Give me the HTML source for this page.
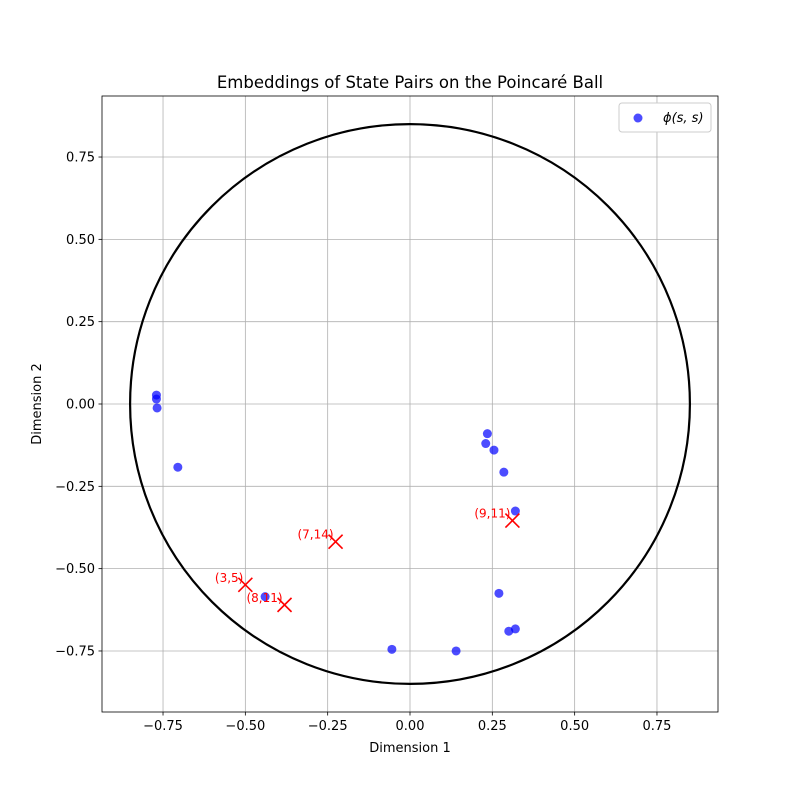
<!DOCTYPE html>
<html><head><meta charset="utf-8"><style>
body{margin:0;background:#fff}
svg{display:block;font-family:"DejaVu Sans","Liberation Sans",sans-serif}
</style></head><body>
<svg id="chart" width="800" height="800"></svg>
<script>
const blueX=[-0.77,-0.77,-0.768,-0.705,0.235,0.23,0.255,0.285,0.32,0.27,0.30,0.32,0.14,-0.055,-0.44];
const blueY=[0.027,0.015,-0.012,-0.192,-0.09,-0.12,-0.14,-0.207,-0.325,-0.575,-0.69,-0.683,-0.75,-0.745,-0.585];
const redLabels=["(7,14)","(3,5)","(8,11)","(9,11)"];
const redX=[-0.226,-0.5,-0.381,0.311];
const redY=[-0.418,-0.549,-0.61,-0.354];
const ticks=[-0.75,-0.5,-0.25,0,0.25,0.5,0.75];
const tickLabels=["−0.75","−0.50","−0.25","0.00","0.25","0.50","0.75"];
const radius=0.85;

const svg=document.getElementById('chart');
const NS='http://www.w3.org/2000/svg';
const L=102,R=718,T=96,B=712,cx=410,cy=404,k=329.3;
const sx=v=>cx+v*k, sy=v=>cy-v*k;
function el(tag,attrs,parent){const e=document.createElementNS(NS,tag);for(const a in attrs)e.setAttribute(a,attrs[a]);(parent||svg).appendChild(e);return e;}

const title=el('text',{x:410,y:88,'text-anchor':'middle','font-size':16.5});
title.textContent='Embeddings of State Pairs on the Poincaré Ball';



const grid=el('g',{});


ticks.forEach((t,i)=>{
  el('line',{x1:sx(t),x2:sx(t),y1:T,y2:B,stroke:'#b0b0b0','stroke-width':0.8},grid);
  el('line',{x1:L,x2:R,y1:sy(t),y2:sy(t),stroke:'#b0b0b0','stroke-width':0.8},grid);
  el('line',{x1:sx(t),x2:sx(t),y1:B,y2:B+3.5,stroke:'#000','stroke-width':0.8});
  el('line',{x1:L-3.5,x2:L,y1:sy(t),y2:sy(t),stroke:'#000','stroke-width':0.8});
  const xt=el('text',{x:sx(t),y:B+18,'text-anchor':'middle','font-size':13});
  xt.textContent=tickLabels[i];
  
  
  const yt=el('text',{x:L-7,y:sy(t)+4.5,'text-anchor':'end','font-size':13});
  yt.textContent=tickLabels[i];
  
  
});

const circ=el('circle',{cx:sx(0),cy:sy(0),r:radius*k,fill:'none',stroke:'#000','stroke-width':2.2});



blueX.forEach((x,i)=>{
  const p=el('circle',{cx:sx(x),cy:sy(blueY[i]),r:4.5,fill:'rgba(0,0,255,0.7)'});
  
  
});

redX.forEach((x,i)=>{
  const g=el('g',{});
  
  
  const px=sx(x),py=sy(redY[i]),d=7;
  el('line',{x1:px-d,y1:py-d,x2:px+d,y2:py+d,stroke:'red','stroke-width':1.6},g);
  el('line',{x1:px-d,y1:py+d,x2:px+d,y2:py-d,stroke:'red','stroke-width':1.6},g);
  const t=el('text',{x:px-2,y:py-3,'text-anchor':'end','font-size':12,fill:'red'},g);
  t.textContent=redLabels[i];
});

const frame=el('rect',{x:L,y:T,width:R-L,height:B-T,fill:'none',stroke:'#000','stroke-width':0.8});



const xl=el('text',{x:410,y:752,'text-anchor':'middle','font-size':13});
xl.textContent='Dimension 1';


const yl=el('text',{x:41,y:404,'text-anchor':'middle','font-size':13,transform:'rotate(-90 41 404)'});
yl.textContent='Dimension 2';



const lg=el('g',{});


el('rect',{x:619,y:103,width:92,height:29,rx:3,fill:'#fff',stroke:'#ccc','stroke-width':1},lg);
el('circle',{cx:638,cy:118,r:4.5,fill:'rgba(0,0,255,0.7)'},lg);
const lt=el('text',{x:663,y:122,'font-size':13,'font-style':'italic'},lg);
lt.textContent='ϕ(s, s)';
</script>
</body></html>
